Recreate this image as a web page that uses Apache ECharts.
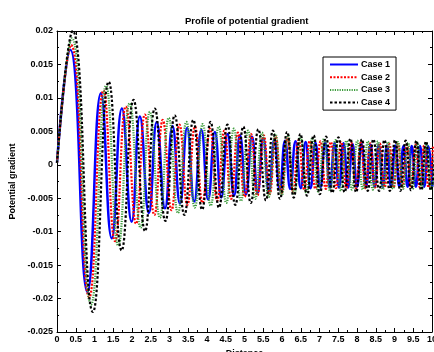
<!DOCTYPE html>
<html>
<head>
<meta charset="utf-8">
<script src="https://cdn.jsdelivr.net/npm/echarts@6/dist/echarts.min.js"></script>
<style>html,body{margin:0;padding:0;background:#fff;overflow:hidden;}#c{position:absolute;left:0;top:0;width:434px;height:352px;}</style>
</head>
<body>
<div id="c"></div>
<script>
// Extrema (peaks/troughs), per case
var case1X = [0,0.355,0.81,1.17,1.46,1.73,1.99,2.21,2.45,2.66,2.88,3.08,3.28,3.47,3.66,3.85,4.03,4.21,4.38,4.55,4.72,4.88,5.04,5.20,5.35,5.50,5.65,5.80,5.94,6.08,6.22,6.36,6.50,6.63,6.76,6.89,7.02,7.15,7.28,7.40,7.52,7.64,7.76,7.88,8.00,8.12,8.24,8.36,8.47,8.58,8.69,8.80,8.91,9.02,9.13,9.24,9.35,9.46,9.57,9.68,9.79,9.90,10.01];
var case1Y = [0.0003,0.0172,-0.0190,0.0107,-0.0110,0.0084,-0.0085,0.0072,-0.0072,0.0064,-0.0065,0.0058,-0.0058,0.0055,-0.0055,0.0052,-0.0052,0.0049,-0.0049,0.0046,-0.0046,0.0044,-0.0044,0.0042,-0.0042,0.0040,-0.0040,0.0038,-0.0038,0.0036,-0.0036,0.0035,-0.0035,0.0034,-0.0035,0.0033,-0.0034,0.0033,-0.0034,0.0032,-0.0034,0.0032,-0.0034,0.0031,-0.0033,0.0031,-0.0033,0.0030,-0.0033,0.0030,-0.0033,0.0029,-0.0033,0.0029,-0.0033,0.0028,-0.0033,0.0028,-0.0033,0.0028,-0.0033,0.0028,-0.0033];

var case2X = [0,0.376,0.859,1.240,1.548,1.834,2.109,2.343,2.597,2.820,3.053,3.265,3.477,3.678,3.880,4.081,4.272,4.463,4.643,4.823,5.003,5.173,5.342,5.512,5.671,5.830,5.989,6.148,6.296,6.445,6.593,6.742,6.890,7.028,7.166,7.303,7.441,7.579,7.717,7.844,7.971,8.098,8.226,8.353,8.480,8.607,8.734,8.862,8.978,9.095,9.211,9.328,9.445,9.561,9.678,9.794,9.911,10.027];
var case2Y = [0.0003,0.0179,-0.0198,0.0111,-0.0114,0.0087,-0.0088,0.0075,-0.0075,0.0067,-0.0068,0.0060,-0.0060,0.0057,-0.0057,0.0054,-0.0054,0.0051,-0.0051,0.0048,-0.0048,0.0046,-0.0046,0.0044,-0.0044,0.0042,-0.0042,0.0040,-0.0040,0.0037,-0.0037,0.0036,-0.0036,0.0035,-0.0036,0.0034,-0.0035,0.0034,-0.0035,0.0033,-0.0035,0.0033,-0.0035,0.0032,-0.0034,0.0032,-0.0034,0.0031,-0.0034,0.0031,-0.0034,0.0030,-0.0034,0.0030,-0.0034,0.0029,-0.0034,0.0029];

var case3X = [0,0.398,0.907,1.310,1.635,1.938,2.229,2.475,2.744,2.979,3.226,3.450,3.674,3.886,4.099,4.312,4.514,4.715,4.906,5.096,5.286,5.466,5.645,5.824,5.992,6.160,6.328,6.496,6.653,6.810,6.966,7.123,7.280,7.426,7.571,7.717,7.862,8.008,8.154,8.288,8.422,8.557,8.691,8.826,8.960,9.094,9.229,9.363,9.486,9.610,9.733,9.856,9.979,10.102];
var case3Y = [0.0003,0.0189,-0.0209,0.0118,-0.0121,0.0092,-0.0094,0.0079,-0.0079,0.0070,-0.0072,0.0064,-0.0064,0.0061,-0.0061,0.0057,-0.0057,0.0054,-0.0054,0.0051,-0.0051,0.0048,-0.0048,0.0046,-0.0046,0.0044,-0.0044,0.0042,-0.0042,0.0040,-0.0040,0.0039,-0.0039,0.0037,-0.0039,0.0036,-0.0037,0.0036,-0.0037,0.0035,-0.0037,0.0035,-0.0037,0.0034,-0.0036,0.0034,-0.0036,0.0033,-0.0036,0.0033,-0.0036,0.0032,-0.0036,0.0032];

var case4X = [0,0.419,0.956,1.381,1.723,2.041,2.348,2.608,2.891,3.139,3.398,3.634,3.870,4.095,4.319,4.543,4.755,4.968,5.168,5.369,5.570,5.758,5.947,6.136,6.313,6.490,6.667,6.844,7.009,7.174,7.340,7.505,7.670,7.823,7.977,8.130,8.284,8.437,8.590,8.732,8.874,9.015,9.157,9.298,9.440,9.584,9.711,9.840,9.970,10.10];
var case4Y = [0.0003,0.0200,-0.0220,0.0124,-0.0128,0.0097,-0.0099,0.0084,-0.0084,0.0074,-0.0075,0.0067,-0.0067,0.0064,-0.0064,0.0060,-0.0060,0.0057,-0.0057,0.0053,-0.0053,0.0051,-0.0051,0.0049,-0.0049,0.0046,-0.0046,0.0044,-0.0044,0.0042,-0.0042,0.0041,-0.0041,0.0039,-0.0041,0.0038,-0.0039,0.0038,-0.0039,0.0037,-0.0039,0.0037,-0.0039,0.0036,-0.0038,0.0036,-0.0038,0.0035,-0.0038,0.0035];

var caseNames = ['Case 1','Case 2','Case 3','Case 4'];
var xTicks = ['0','0.5','1','1.5','2','2.5','3','3.5','4','4.5','5','5.5','6','6.5','7','7.5','8','8.5','9','9.5','10'];
var yTicks = ['-0.025','-0.02','-0.015','-0.01','-0.005','0','0.005','0.01','0.015','0.02'];

function zip(xs, ys){ var o=[]; for(var i=0;i<xs.length;i++){ o.push([xs[i], ys[i]]); } return o; }

var FONT = 'Liberation Sans';
var chart = echarts.init(document.getElementById('c'), null, {renderer:'canvas', width:434, height:352});

function axisCommon(){
  return {
    axisLine:{show:true, onZero:false, lineStyle:{color:'#000', width:1}},
    axisTick:{show:true, inside:true, length:4, lineStyle:{color:'#000', width:1}},
    minorTick:{show:true, splitNumber:2, length:2, lineStyle:{color:'#000', width:1}},
    splitLine:{show:false}
  };
}

var xBottom = Object.assign(axisCommon(), {
  type:'value', min:0, max:10, interval:0.5, position:'bottom',
  axisLabel:{show:true, color:'#000', fontFamily:FONT, fontWeight:'bold', fontSize:9, margin:3,
    showMaxLabel:true, hideOverlap:false, formatter:function(v){ var i=Math.round(v/0.5); return xTicks[i]; }},
  name:'Distance', nameLocation:'middle', nameGap:14,
  nameTextStyle:{color:'#000', fontFamily:FONT, fontWeight:'bold', fontSize:9}
});
var xTop = Object.assign(axisCommon(), {
  type:'value', min:0, max:10, interval:0.5, position:'top', axisLabel:{show:false}
});
var yLeft = Object.assign(axisCommon(), {
  type:'value', min:-0.025, max:0.02, interval:0.005, position:'left',
  axisLabel:{show:true, color:'#000', fontFamily:FONT, fontWeight:'bold', fontSize:9, margin:4,
    formatter:function(v){ var i=Math.round((v+0.025)/0.005); return yTicks[i]; }},
  name:'Potential gradient', nameLocation:'middle', nameGap:38,
  nameTextStyle:{color:'#000', fontFamily:FONT, fontWeight:'bold', fontSize:9}
});
var yRight = Object.assign(axisCommon(), {
  type:'value', min:-0.025, max:0.02, interval:0.005, position:'right', axisLabel:{show:false}
});

var styles = [
  {color:'#0000ff', width:2.5, type:'solid'},
  {color:'#ff0000', width:2.2, type:[2,1.5]},
  {color:'#3c9c3c', width:2.2, type:[1.2,1.2]},
  {color:'#000000', width:2.2, type:[2.5,2]}
];
var datas = [zip(case1X,case1Y), zip(case2X,case2Y), zip(case3X,case3Y), zip(case4X,case4Y)];

var series = caseNames.map(function(n,i){
  return {
    name:n, type:'line', xAxisIndex:0, yAxisIndex:0, data:datas[i],
    showSymbol:false, symbol:'none', smooth:0.5, animation:false,
    lineStyle:{color:styles[i].color, width:styles[i].width, type:styles[i].type},
    itemStyle:{color:styles[i].color}, z:2+i
  };
});

chart.setOption({
  backgroundColor:'#fff',
  animation:false,
  title:{text:'Profile of potential gradient', left:180, top:11,
    textStyle:{color:'#000', fontFamily:FONT, fontWeight:'bold', fontSize:9.5}},
  grid:{left:57, right:2, top:31, bottom:20, containLabel:false, outerBoundsMode:'none'},
  legend:{show:true, orient:'vertical', left:323, top:57, data:caseNames,
    backgroundColor:'#fff', borderColor:'#000', borderWidth:1, borderRadius:0,
    padding:[3,6,3,6], itemGap:3.7, itemWidth:28, itemHeight:10,
    itemStyle:{opacity:0},
    textStyle:{color:'#000', fontFamily:FONT, fontWeight:'bold', fontSize:9, padding:[0,0,0,-2]}},
  xAxis:[xBottom, xTop],
  yAxis:[yLeft, yRight],
  series:series
});
</script>
</body>
</html>
